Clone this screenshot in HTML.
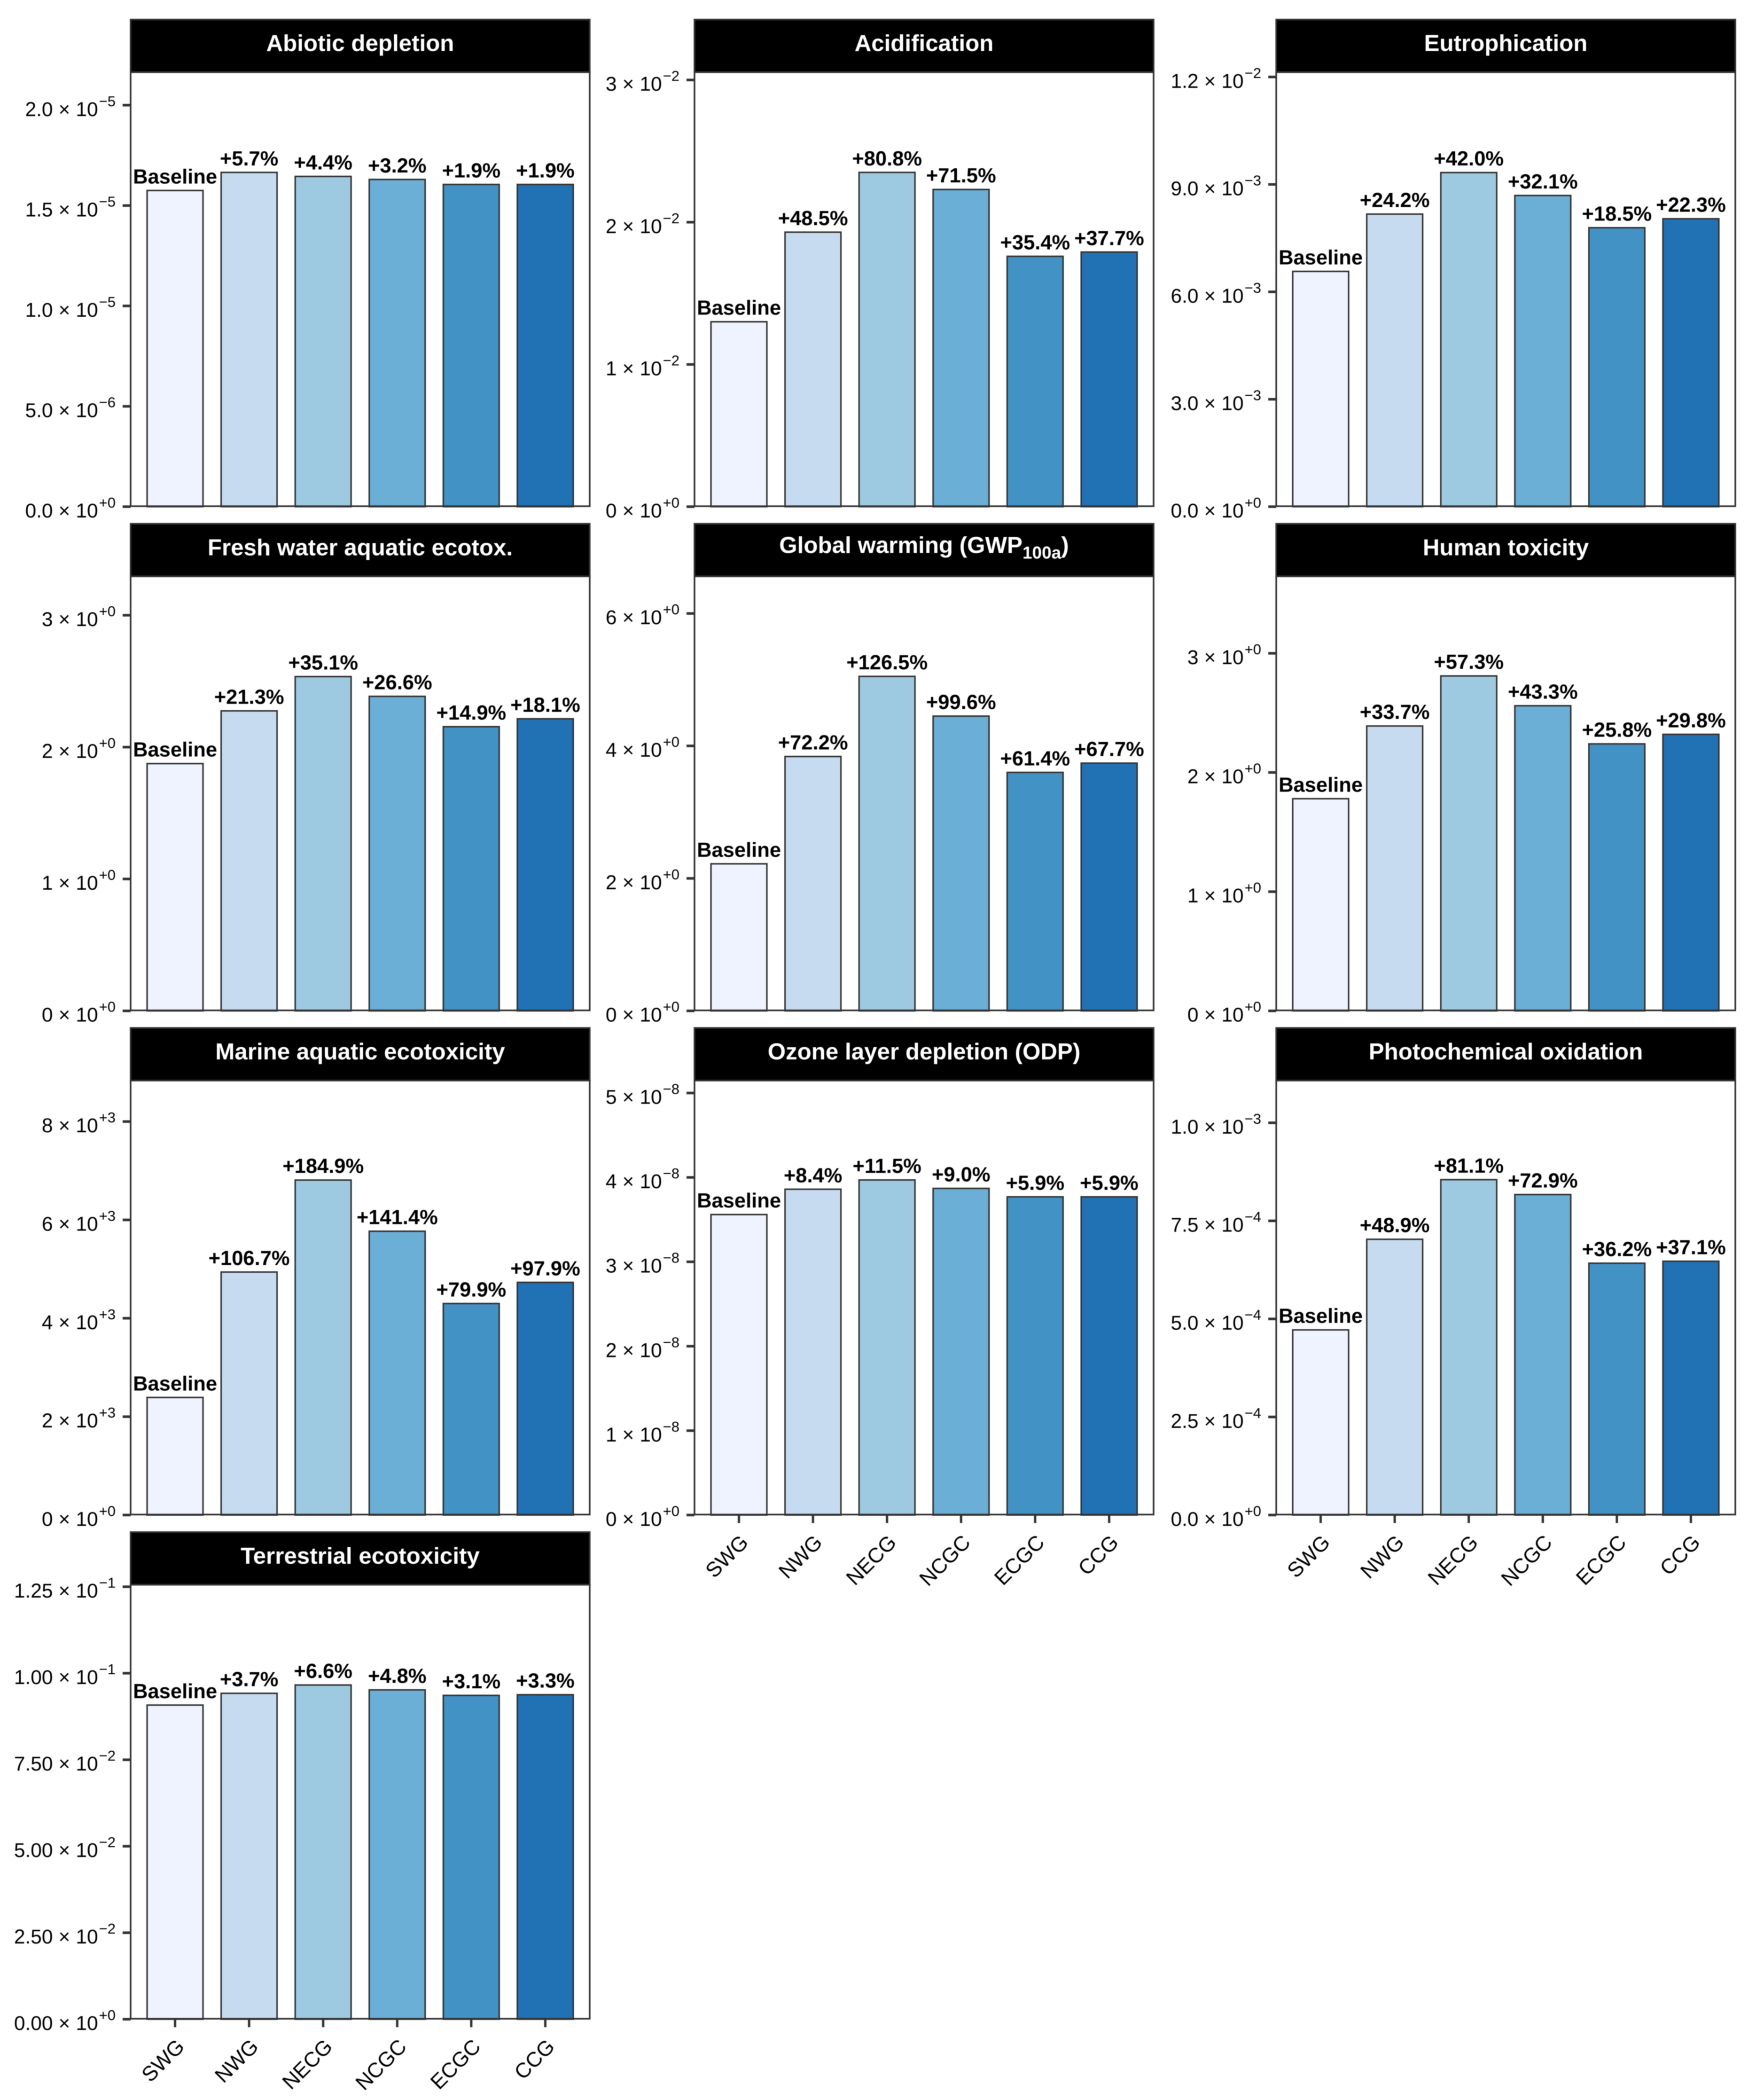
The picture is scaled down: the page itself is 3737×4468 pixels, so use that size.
<!DOCTYPE html>
<html lang="en">
<head>
<meta charset="utf-8">
<title>Impact categories by scenario</title>
<style>
html,body{margin:0;padding:0;background:#fff;}
svg{display:block;filter:blur(0.9px);}
text{font-family:"Liberation Sans",Arial,Helvetica,sans-serif;}
</style>
</head>
<body>
<svg id="chart" xmlns="http://www.w3.org/2000/svg" width="3737" height="4468" viewBox="0 0 3737 4468"></svg>
<script>
const categories = ["SWG","NWG","NECG","NCGC","ECGC","CCG"];
const barColors = ["#EFF3FF","#C6DBEF","#9ECAE1","#6BAED6","#4292C6","#2171B5"];

const abioticValues = [1.575e-5,1.665e-5,1.645e-5,1.63e-5,1.605e-5,1.605e-5];
const abioticLabels = ["Baseline","+5.7%","+4.4%","+3.2%","+1.9%","+1.9%"];
const abioticTicks = [0,5e-6,1e-5,1.5e-5,2e-5];
const abioticTickLabels = ["0.0|+0","5.0|−6","1.0|−5","1.5|−5","2.0|−5"];
const abioticMax = 2.161e-5;

const acidValues = [1.30e-2,1.93e-2,2.35e-2,2.23e-2,1.76e-2,1.79e-2];
const acidLabels = ["Baseline","+48.5%","+80.8%","+71.5%","+35.4%","+37.7%"];
const acidTicks = [0,1e-2,2e-2,3e-2];
const acidTickLabels = ["0|+0","1|−2","2|−2","3|−2"];
const acidMax = 3.05e-2;

const eutroValues = [6.57e-3,8.17e-3,9.33e-3,8.69e-3,7.79e-3,8.04e-3];
const eutroLabels = ["Baseline","+24.2%","+42.0%","+32.1%","+18.5%","+22.3%"];
const eutroTicks = [0,3e-3,6e-3,9e-3,1.2e-2];
const eutroTickLabels = ["0.0|+0","3.0|−3","6.0|−3","9.0|−3","1.2|−2"];
const eutroMax = 1.2115e-2;

const freshValues = [1.875,2.275,2.535,2.385,2.155,2.215];
const freshLabels = ["Baseline","+21.3%","+35.1%","+26.6%","+14.9%","+18.1%"];
const freshTicks = [0,1,2,3];
const freshTickLabels = ["0|+0","1|+0","2|+0","3|+0"];
const freshMax = 3.29;

const gwpValues = [2.22,3.84,5.05,4.45,3.60,3.74];
const gwpLabels = ["Baseline","+72.2%","+126.5%","+99.6%","+61.4%","+67.7%"];
const gwpTicks = [0,2,4,6];
const gwpTickLabels = ["0|+0","2|+0","4|+0","6|+0"];
const gwpMax = 6.55;

const humanValues = [1.78,2.39,2.81,2.56,2.24,2.32];
const humanLabels = ["Baseline","+33.7%","+57.3%","+43.3%","+25.8%","+29.8%"];
const humanTicks = [0,1,2,3];
const humanTickLabels = ["0|+0","1|+0","2|+0","3|+0"];
const humanMax = 3.64;

const marineValues = [2.39e3,4.94e3,6.81e3,5.77e3,4.30e3,4.73e3];
const marineLabels = ["Baseline","+106.7%","+184.9%","+141.4%","+79.9%","+97.9%"];
const marineTicks = [0,2e3,4e3,6e3,8e3];
const marineTickLabels = ["0|+0","2|+3","4|+3","6|+3","8|+3"];
const marineMax = 8.82e3;

const ozoneValues = [3.56e-8,3.86e-8,3.97e-8,3.87e-8,3.77e-8,3.77e-8];
const ozoneLabels = ["Baseline","+8.4%","+11.5%","+9.0%","+5.9%","+5.9%"];
const ozoneTicks = [0,1e-8,2e-8,3e-8,4e-8,5e-8];
const ozoneTickLabels = ["0|+0","1|−8","2|−8","3|−8","4|−8","5|−8"];
const ozoneMax = 5.14e-8;

const photoValues = [4.72e-4,7.03e-4,8.55e-4,8.17e-4,6.42e-4,6.47e-4];
const photoLabels = ["Baseline","+48.9%","+81.1%","+72.9%","+36.2%","+37.1%"];
const photoTicks = [0,2.5e-4,5e-4,7.5e-4,1e-3];
const photoTickLabels = ["0.0|+0","2.5|−4","5.0|−4","7.5|−4","1.0|−3"];
const photoMax = 1.106e-3;

const terrValues = [9.08e-2,9.42e-2,9.66e-2,9.52e-2,9.36e-2,9.38e-2];
const terrLabels = ["Baseline","+3.7%","+6.6%","+4.8%","+3.1%","+3.3%"];
const terrTicks = [0,2.5e-2,5e-2,7.5e-2,1e-1,1.25e-1];
const terrTickLabels = ["0.00|+0","2.50|−2","5.00|−2","7.50|−2","1.00|−1","1.25|−1"];
const terrMax = 1.254e-1;

const panels = [
  {slug:"abiotic-depletion", title:"Abiotic depletion", row:0, col:0, values:abioticValues, labels:abioticLabels, ticks:abioticTicks, tickLabels:abioticTickLabels, max:abioticMax, xAxis:false},
  {slug:"acidification", title:"Acidification", row:0, col:1, values:acidValues, labels:acidLabels, ticks:acidTicks, tickLabels:acidTickLabels, max:acidMax, xAxis:false},
  {slug:"eutrophication", title:"Eutrophication", row:0, col:2, values:eutroValues, labels:eutroLabels, ticks:eutroTicks, tickLabels:eutroTickLabels, max:eutroMax, xAxis:false},
  {slug:"fresh-water-ecotox", title:"Fresh water aquatic ecotox.", row:1, col:0, values:freshValues, labels:freshLabels, ticks:freshTicks, tickLabels:freshTickLabels, max:freshMax, xAxis:false},
  {slug:"global-warming", title:"Global warming (GWP", sub:"100a", tail:")", row:1, col:1, values:gwpValues, labels:gwpLabels, ticks:gwpTicks, tickLabels:gwpTickLabels, max:gwpMax, xAxis:false},
  {slug:"human-toxicity", title:"Human toxicity", row:1, col:2, values:humanValues, labels:humanLabels, ticks:humanTicks, tickLabels:humanTickLabels, max:humanMax, xAxis:false},
  {slug:"marine-ecotoxicity", title:"Marine aquatic ecotoxicity", row:2, col:0, values:marineValues, labels:marineLabels, ticks:marineTicks, tickLabels:marineTickLabels, max:marineMax, xAxis:false},
  {slug:"ozone-depletion", title:"Ozone layer depletion (ODP)", row:2, col:1, values:ozoneValues, labels:ozoneLabels, ticks:ozoneTicks, tickLabels:ozoneTickLabels, max:ozoneMax, xAxis:true},
  {slug:"photochemical-oxidation", title:"Photochemical oxidation", row:2, col:2, values:photoValues, labels:photoLabels, ticks:photoTicks, tickLabels:photoTickLabels, max:photoMax, xAxis:true},
  {slug:"terrestrial-ecotoxicity", title:"Terrestrial ecotoxicity", row:3, col:0, values:terrValues, labels:terrLabels, ticks:terrTicks, tickLabels:terrTickLabels, max:terrMax, xAxis:true}
];

const NS = "http://www.w3.org/2000/svg";
const svg = document.getElementById("chart");
const colLefts = [278,1478,2716];
const panelWidth = 977;
const rowStep = 1072.7;
const stripTop0 = 41.7, stripBottom0 = 153.5, panelBottom0 = 1077;
const lineColor = "#333333";

function make(tag, attrs, parent){
  const el = document.createElementNS(NS, tag);
  for (const k in attrs) el.setAttribute(k, attrs[k]);
  parent.appendChild(el);
  return el;
}

function drawPanel(p){
  const left = colLefts[p.col];
  const stripTop = stripTop0 + p.row*rowStep;
  const stripBottom = stripBottom0 + p.row*rowStep;
  const bottom = panelBottom0 + p.row*rowStep;
  const zero = bottom + 1;
  const unit = panelWidth/6.2;
  const xScale = i => left + (i+0.6)*unit;
  const yScale = v => zero - (v/p.max)*(zero-(stripBottom+1.5));
  const barW = unit*0.755;

  const g = make("g", {}, svg);
  
  

  // strip
  const strip = make("rect", {x:left, y:stripTop, width:panelWidth, height:stripBottom-stripTop, fill:"#000", stroke:lineColor, "stroke-width":3.5}, g);
  
  

  const title = make("text", {x:left+panelWidth/2, y:stripTop+(p.sub?62:67), "text-anchor":"middle", "font-size":49.3, "font-weight":"bold", fill:"#fff"}, g);
  
  
  title.textContent = p.title;
  if (p.sub){
    const sub = make("tspan", {"font-size":37, dy:12}, title);
    sub.textContent = p.sub;
    const tail = make("tspan", {dy:-12}, title);
    tail.textContent = p.tail;
  }

  // bars
  p.values.forEach((v,i)=>{
    const top = yScale(v);
    const bar = make("rect", {x:xScale(i)-barW/2, y:top, width:barW, height:zero-top, fill:barColors[i], stroke:lineColor, "stroke-width":3.2}, g);
    
    

    const lab = make("text", {x:xScale(i)+(i===0?0:0), y:top-15, "text-anchor":"middle", "font-size":43.5, "font-weight":"bold", fill:"#000"}, g);
    
    
    lab.textContent = p.labels[i];
  });

  // panel border
  const border = make("rect", {x:left, y:stripBottom, width:panelWidth, height:bottom-stripBottom, fill:"none", stroke:lineColor, "stroke-width":3.5}, g);
  
  

  // y axis
  p.ticks.forEach((t,i)=>{
    const y = yScale(t);
    const tick = make("line", {x1:left-17, x2:left, y1:y, y2:y, stroke:lineColor, "stroke-width":5.5}, g);
    
    

    const parts = p.tickLabels[i].split("|");
    const label = make("text", {x:left-32, y:y+23, "text-anchor":"end", "font-size":42.5, fill:"#000"}, g);
    
    
    const m = make("tspan", {}, label);
    m.textContent = parts[0];
    const times = make("tspan", {dx:12}, label);
    times.textContent = "×";
    const ten = make("tspan", {dx:12}, label);
    ten.textContent = "10";
    const exp = make("tspan", {"font-size":31, dy:-21, dx:2}, label);
    exp.textContent = parts[1];
  });

  // x axis
  if (p.xAxis){
    categories.forEach((c,i)=>{
      const x = xScale(i);
      const tick = make("line", {x1:x, x2:x, y1:bottom, y2:bottom+18, stroke:lineColor, "stroke-width":5}, g);
      
      

      const ax = x+22.5, ay = bottom+62;
      const lab = make("text", {x:ax, y:ay, "text-anchor":"end", "font-size":44.5, fill:"#000", transform:"rotate(-45 "+ax+" "+ay+")"}, g);
      
      
      lab.textContent = c;
    });
  }
}

panels.forEach(drawPanel);
</script>
</body>
</html>
